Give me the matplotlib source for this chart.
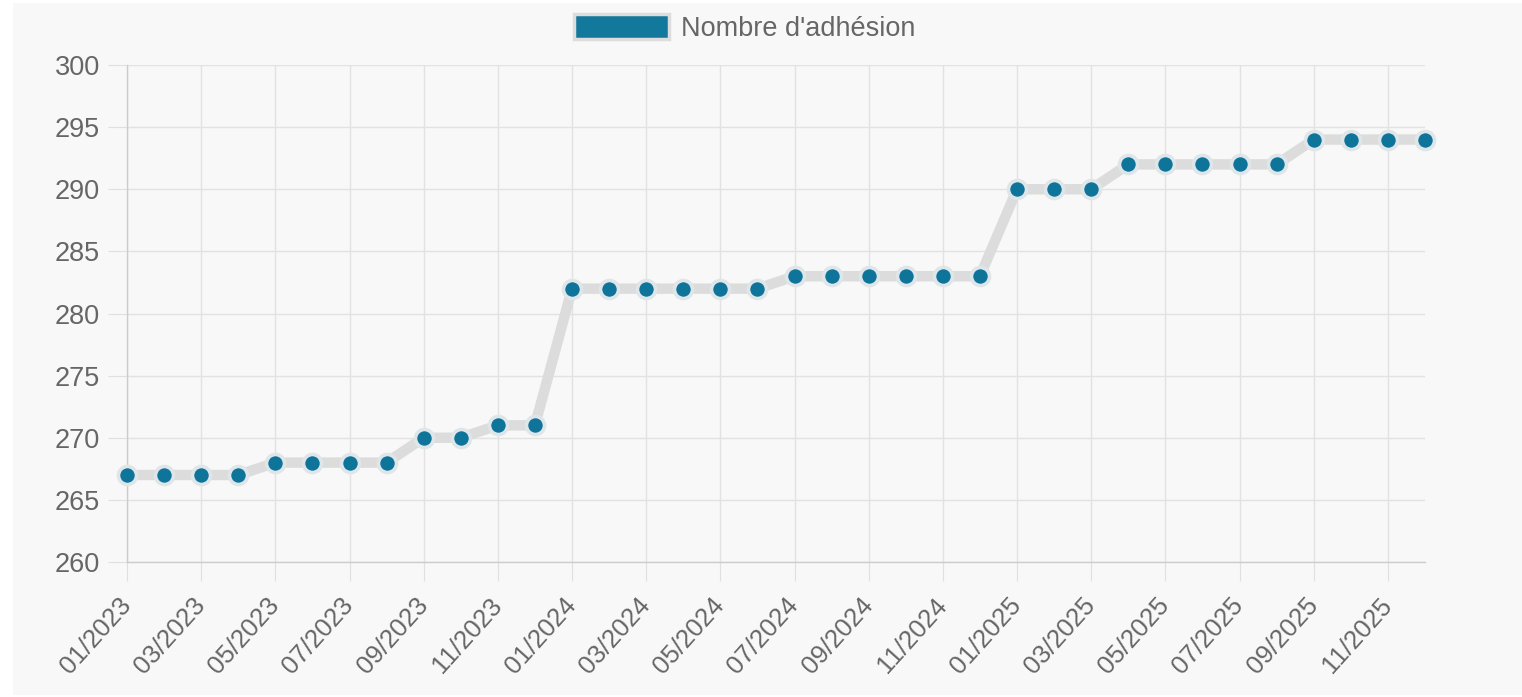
import matplotlib
matplotlib.use("Agg")
import matplotlib.pyplot as plt
from matplotlib.patches import Rectangle, Patch

# Monthly membership counts, Jan 2023 - Dec 2025
months = [
    "01/2023", "02/2023", "03/2023", "04/2023", "05/2023", "06/2023",
    "07/2023", "08/2023", "09/2023", "10/2023", "11/2023", "12/2023",
    "01/2024", "02/2024", "03/2024", "04/2024", "05/2024", "06/2024",
    "07/2024", "08/2024", "09/2024", "10/2024", "11/2024", "12/2024",
    "01/2025", "02/2025", "03/2025", "04/2025", "05/2025", "06/2025",
    "07/2025", "08/2025", "09/2025", "10/2025", "11/2025", "12/2025",
]
adhesions = [
    267, 267, 267, 267, 268, 268, 268, 268, 270, 270, 271, 271,
    282, 282, 282, 282, 282, 282, 283, 283, 283, 283, 283, 283,
    290, 290, 290, 292, 292, 292, 292, 292, 294, 294, 294, 294,
]
y_ticks = [260, 265, 270, 275, 280, 285, 290, 295, 300]
series_label = "Nombre d'adhésion"

plt.rcParams["font.family"] = ["Liberation Sans", "DejaVu Sans"]

W, H = 1522, 697
fig = plt.figure(figsize=(W / 100, H / 100), dpi=100, facecolor="white")
fig.patches.append(Rectangle((13 / W, 2 / H), 1 - 13 / W, 1 - 5 / H,
                             transform=fig.transFigure, facecolor="#f8f8f8",
                             edgecolor="none", zorder=-10))

ax = fig.add_axes([127 / W, 135 / H, 1298 / W, 497 / H])
ax.set_facecolor("none")

x = list(range(len(months)))
ax.plot(x, adhesions, color="#dcdcdc", lw=7.5, solid_capstyle="round",
        solid_joinstyle="round", zorder=3, clip_on=False)
ax.plot(x, adhesions, ls="none", marker="o", ms=13, mfc="#0f7499",
        mec="#dfe6ea", mew=2.6, zorder=4, clip_on=False)

ax.set_xlim(0, len(months) - 1)
ax.set_ylim(y_ticks[0], y_ticks[-1])
ax.set_yticks(y_ticks)
ax.set_xticks(x[::2])
ax.set_xticklabels(months[::2], rotation=48, ha="right", va="center",
                   rotation_mode="anchor", fontsize=18.5)

ax.grid(True, color="#e2e2e2", lw=1, zorder=1)
ax.set_axisbelow(True)
for side in ("top", "right"):
    ax.spines[side].set_visible(False)
for side in ("left", "bottom"):
    ax.spines[side].set_color("#cccccc")
    ax.spines[side].set_linewidth(1)

ax.tick_params(axis="both", length=13.5, width=0.8, color="#e0e0e0",
               labelcolor="#666666")
ax.tick_params(axis="y", pad=6, labelsize=19.5)
ax.tick_params(axis="x", pad=15)

handle = Patch(facecolor="#12789c", edgecolor="#dddddd", linewidth=2.5)
fig.legend([handle], [series_label], loc="center",
           bbox_to_anchor=(745 / W, 1 - 28 / H), frameon=False,
           borderpad=0, handlelength=3.5, handleheight=1.07,
           handletextpad=0.45, fontsize=19.5, labelcolor="#666666")

fig.savefig("out.png", dpi=100, facecolor=fig.get_facecolor())
